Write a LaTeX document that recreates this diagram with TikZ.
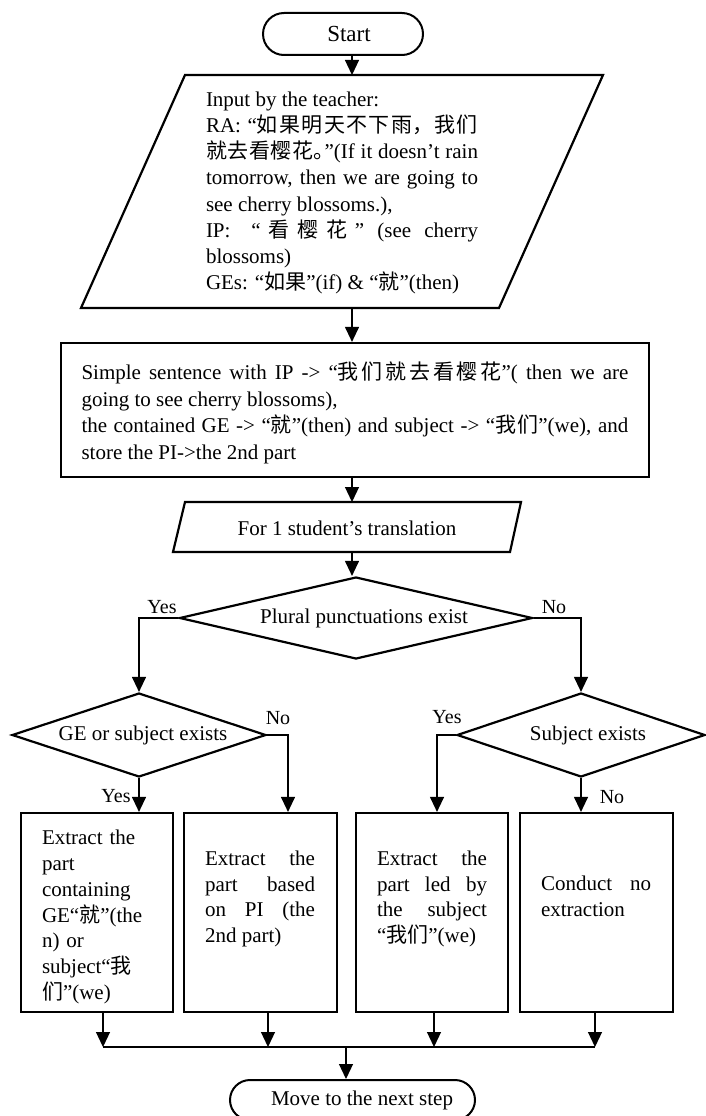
\documentclass[tikz,border=0pt]{standalone}
\usepackage{fontspec}
\setmainfont{Liberation Serif}
\newfontfamily\cjkfont{Noto Sans CJK SC}
\usetikzlibrary{shapes.geometric,shapes.misc,arrows.meta}
% Chinese runs: CJK font, with stretchable breaks between the characters
\newcommand\zh[1]{{\cjkfont\XeTeXlinebreaklocale "zh"\XeTeXlinebreakskip=0pt plus 2.6pt\relax #1}}
\newcommand\cjkgap{\hspace{0pt plus 2.6pt}}
\tolerance=10000
\hyphenpenalty=10000
\exhyphenpenalty=10000
\begin{document}
\begin{tikzpicture}[x=1pt,y=-1pt,
  txt/.style={font=\fontsize{21}{26.2}\selectfont, inner sep=0pt},
  boxline/.style={draw=black, line width=2.2pt},
  conn/.style={draw=black, line width=1.2pt},
  arr/.style={conn, -{Triangle[length=15pt,width=14pt]}},
  term/.style={rounded rectangle, draw=black, line width=2pt, inner sep=0pt},
  decision/.style={diamond, boxline, inner sep=0pt, font=\fontsize{21}{25}\selectfont},
  procbox/.style={rectangle, boxline, inner sep=0pt},
  cell/.style={font=\fontsize{21}{25.7}\selectfont, inner sep=0pt, text width=110pt},
  lbl/.style={font=\fontsize{20}{24}\selectfont, inner sep=0pt, anchor=base},
]
\fill[white] (0,0) rectangle (705,1116);
\useasboundingbox (0,0) rectangle (705,1116);

\coordinate (spine) at (352,0);

% start
\node[term, minimum width=160pt, minimum height=42pt, font=\fontsize{23}{26}\selectfont]
  (start) at (343,34) {\hspace*{12pt}Start};

% teacher input (parallelogram)
\draw[boxline] (185,75) -- (603,75) -- (499,308) -- (81,308) -- cycle;
\coordinate (inTop) at (352,75);
\coordinate (inBot) at (352,308);
\node[txt, text width=272pt, align=justify] (input) at (342,193) {%
Input by the teacher:\\
RA: “\zh{如果明天不下雨，我们}\linebreak
\zh{就去看樱花。}\kern-.45em”(If it doesn’t rain\linebreak
tomorrow, then we are going to\linebreak
see cherry blossoms.),\\
IP: \cjkgap“\cjkgap\zh{看樱花}\cjkgap” (see cherry\linebreak
blossoms)\\
GEs: “\zh{如果}”(if) \& “\zh{就}”(then)};

% simple sentence
\node[procbox, minimum width=588pt, minimum height=134pt] (simple) at (355,410) {};
\node[txt, text width=547pt, align=justify, font=\fontsize{21}{26.7}\selectfont]
  (simplet) at (355,413) {%
Simple sentence with IP -> “\zh{我们就去看樱花}”( then we are\linebreak
going to see cherry blossoms),\\
the contained GE -> “\zh{就}”(then) and subject -> “\zh{我们}”(we), and\linebreak
store the PI->the 2nd part};

% loop over translations (parallelogram)
\draw[boxline] (185,502) -- (521,502) -- (510,552) -- (173,552) -- cycle;
\coordinate (loopTop) at (352,502);
\coordinate (loopBot) at (352,552);
\node[txt] (loop) at (347,528) {For 1 student’s translation};

% decisions
\node[decision, minimum width=353pt, minimum height=82pt, shape aspect=4.3]
  (plural) at (356,618) {\hspace*{16pt}Plural punctuations exist};
\node[decision, minimum width=254pt, minimum height=84pt, shape aspect=3]
  (ge) at (139,735) {\hspace*{8pt}GE or subject exists};
\node[decision, minimum width=248pt, minimum height=84pt, shape aspect=2.95]
  (subj) at (581,735) {\hspace*{14pt}Subject exists};

% extraction boxes
\node[procbox, minimum width=152pt, minimum height=199pt] (b1) at (97,912.5) {};
\node[procbox, minimum width=153pt, minimum height=199pt] (b2) at (260.5,912.5) {};
\node[procbox, minimum width=152pt, minimum height=199pt] (b3) at (432,912.5) {};
\node[procbox, minimum width=153pt, minimum height=199pt] (b4) at (596.5,912.5) {};

\node[cell, align=left] (b1t) at (97,917) {Extract the\\ part\\ containing\\
  GE“\zh{就}”(the\\ n) or\\ subject“\zh{我}\\ \zh{们}”(we)};
\node[cell, align=justify] (b2t) at (260,899) {Extract the\linebreak part based\linebreak
  on PI (the\linebreak 2nd part)};
\node[cell, align=justify] (b3t) at (432,899) {Extract the\linebreak part led by\linebreak
  the subject\linebreak “\zh{我们}”(we)};
\node[cell, align=justify] (b4t) at (596,896) {Conduct no\linebreak extraction};

% end
\node[term, minimum width=245pt, minimum height=40pt, font=\fontsize{21}{25}\selectfont]
  (end) at (352.5,1100) {\hspace*{19pt}Move to the next step};

% main flow
\draw[arr] (start.south -| spine) -- (inTop);
\draw[arr] (inBot) -- (simple.north -| spine);
\draw[arr] (simple.south -| spine) -- (loopTop);
\draw[arr] (loopBot) -- (plural.north -| spine);

% branches
\draw[arr] (plural.west) -| (ge.north);
\draw[arr] (plural.east) -| (subj.north);
\node[lbl] (yes1) at (162,613) {Yes};
\node[lbl] (no1) at (554,613) {No};

\coordinate (xNo2) at (288,0);
\coordinate (xYes3) at (437,0);
\draw[arr] (ge.east) -| (b2.north -| xNo2);
\draw[arr] (ge.south) -- (ge.south |- b1.north);
\draw[arr] (subj.west) -| (b3.north -| xYes3);
\draw[arr] (subj.south) -- (subj.south |- b4.north);
\node[lbl] (no2) at (278,724) {No};
\node[lbl] (yes2) at (116,802) {Yes};
\node[lbl] (yes3) at (447,723) {Yes};
\node[lbl] (no3) at (612,803) {No};

% merge into the next step
\coordinate (bus) at (346,1047);
\draw[arr] ([xshift=6pt]b1.south) -- ([xshift=6pt]b1.south |- bus);
\draw[arr] ([xshift=7.5pt]b2.south) -- ([xshift=7.5pt]b2.south |- bus);
\draw[arr] ([xshift=2pt]b3.south) -- ([xshift=2pt]b3.south |- bus);
\draw[arr] ([xshift=-1.5pt]b4.south) -- ([xshift=-1.5pt]b4.south |- bus);
\draw[conn] ([xshift=6pt]b1.south |- bus) -- ([xshift=-1.5pt]b4.south |- bus);
\draw[arr] (bus) -- (end.north -| bus);
\end{tikzpicture}
\end{document}
